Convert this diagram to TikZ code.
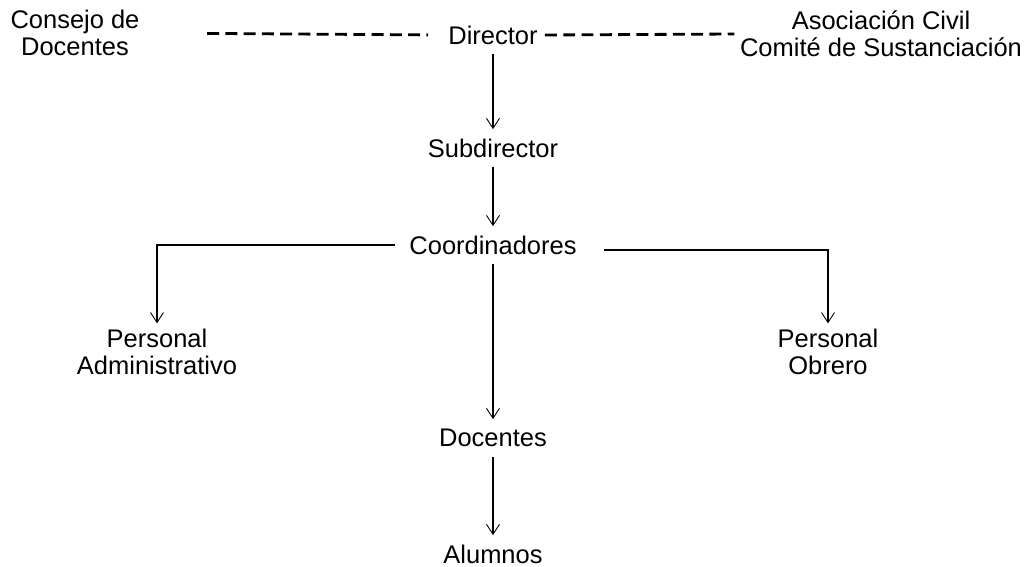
\documentclass[tikz,border=0pt]{standalone}
\usepackage{fontspec}
\setmainfont{Liberation Sans}
\usetikzlibrary{arrows.meta, positioning, calc}

\begin{document}
\begin{tikzpicture}[
    font=\fontsize{14.5}{15.6}\selectfont,
    cargo/.style={inner sep=0pt, inner xsep=4pt, minimum height=0.74cm},
    cargodos/.style={align=center, inner sep=3pt},
    flecha/.style={-{Straight Barb[length=2mm, width=2.6mm, line width=0.5pt]}, line width=0.6pt},
    codo/.style={-{Straight Barb[length=2mm, width=2.6mm, line width=0.5pt]}, line width=1pt},
    enlace/.style={line width=1.6pt, dash pattern=on 6.8pt off 3.6pt}
  ]
  \useasboundingbox (0,0) rectangle (20.62,-11.32);
  % Nivel superior
  \node[cargodos] (consejo) at (1.5,-0.66) {Consejo de\\Docentes};
  \node[cargo] (dir) at (9.86,-0.70) {Director};
  \node[cargodos] (asoc) at (17.62,-0.68) {Asociación Civil\\Comité de Sustanciación};
  % Linea de mando
  \node[cargo] (subdir) at (9.86,-2.96) {Subdirector};
  \node[cargo] (coord) at (9.86,-4.90) {Coordinadores};
  \node[cargodos] (padm) at (3.14,-7.04) {Personal\\Administrativo};
  \node[cargodos] (pobr) at (16.56,-7.04) {Personal\\Obrero};
  \node[cargo] (doc) at (9.86,-8.76) {Docentes};
  \node[cargo] (alum) at (9.86,-11.08) {Alumnos};
  % Relaciones de apoyo
  \draw[enlace, shorten <=1.24cm, shorten >=0.26cm] (consejo.east) -- (dir.west);
  \draw[enlace] (dir.east) -- (asoc.west);
  % Flechas
  \draw[flecha] (dir) -- (subdir);
  \draw[flecha] (subdir) -- (coord);
  \draw[flecha] (coord) -- (doc);
  \draw[flecha] (doc) -- (alum);
  \draw[codo] ([xshift=-0.15cm]coord.west) -| (padm.north);
  \draw[codo] ([shift={(0.4,-0.1)}]coord.east) -| (pobr.north);
\end{tikzpicture}
\end{document}
